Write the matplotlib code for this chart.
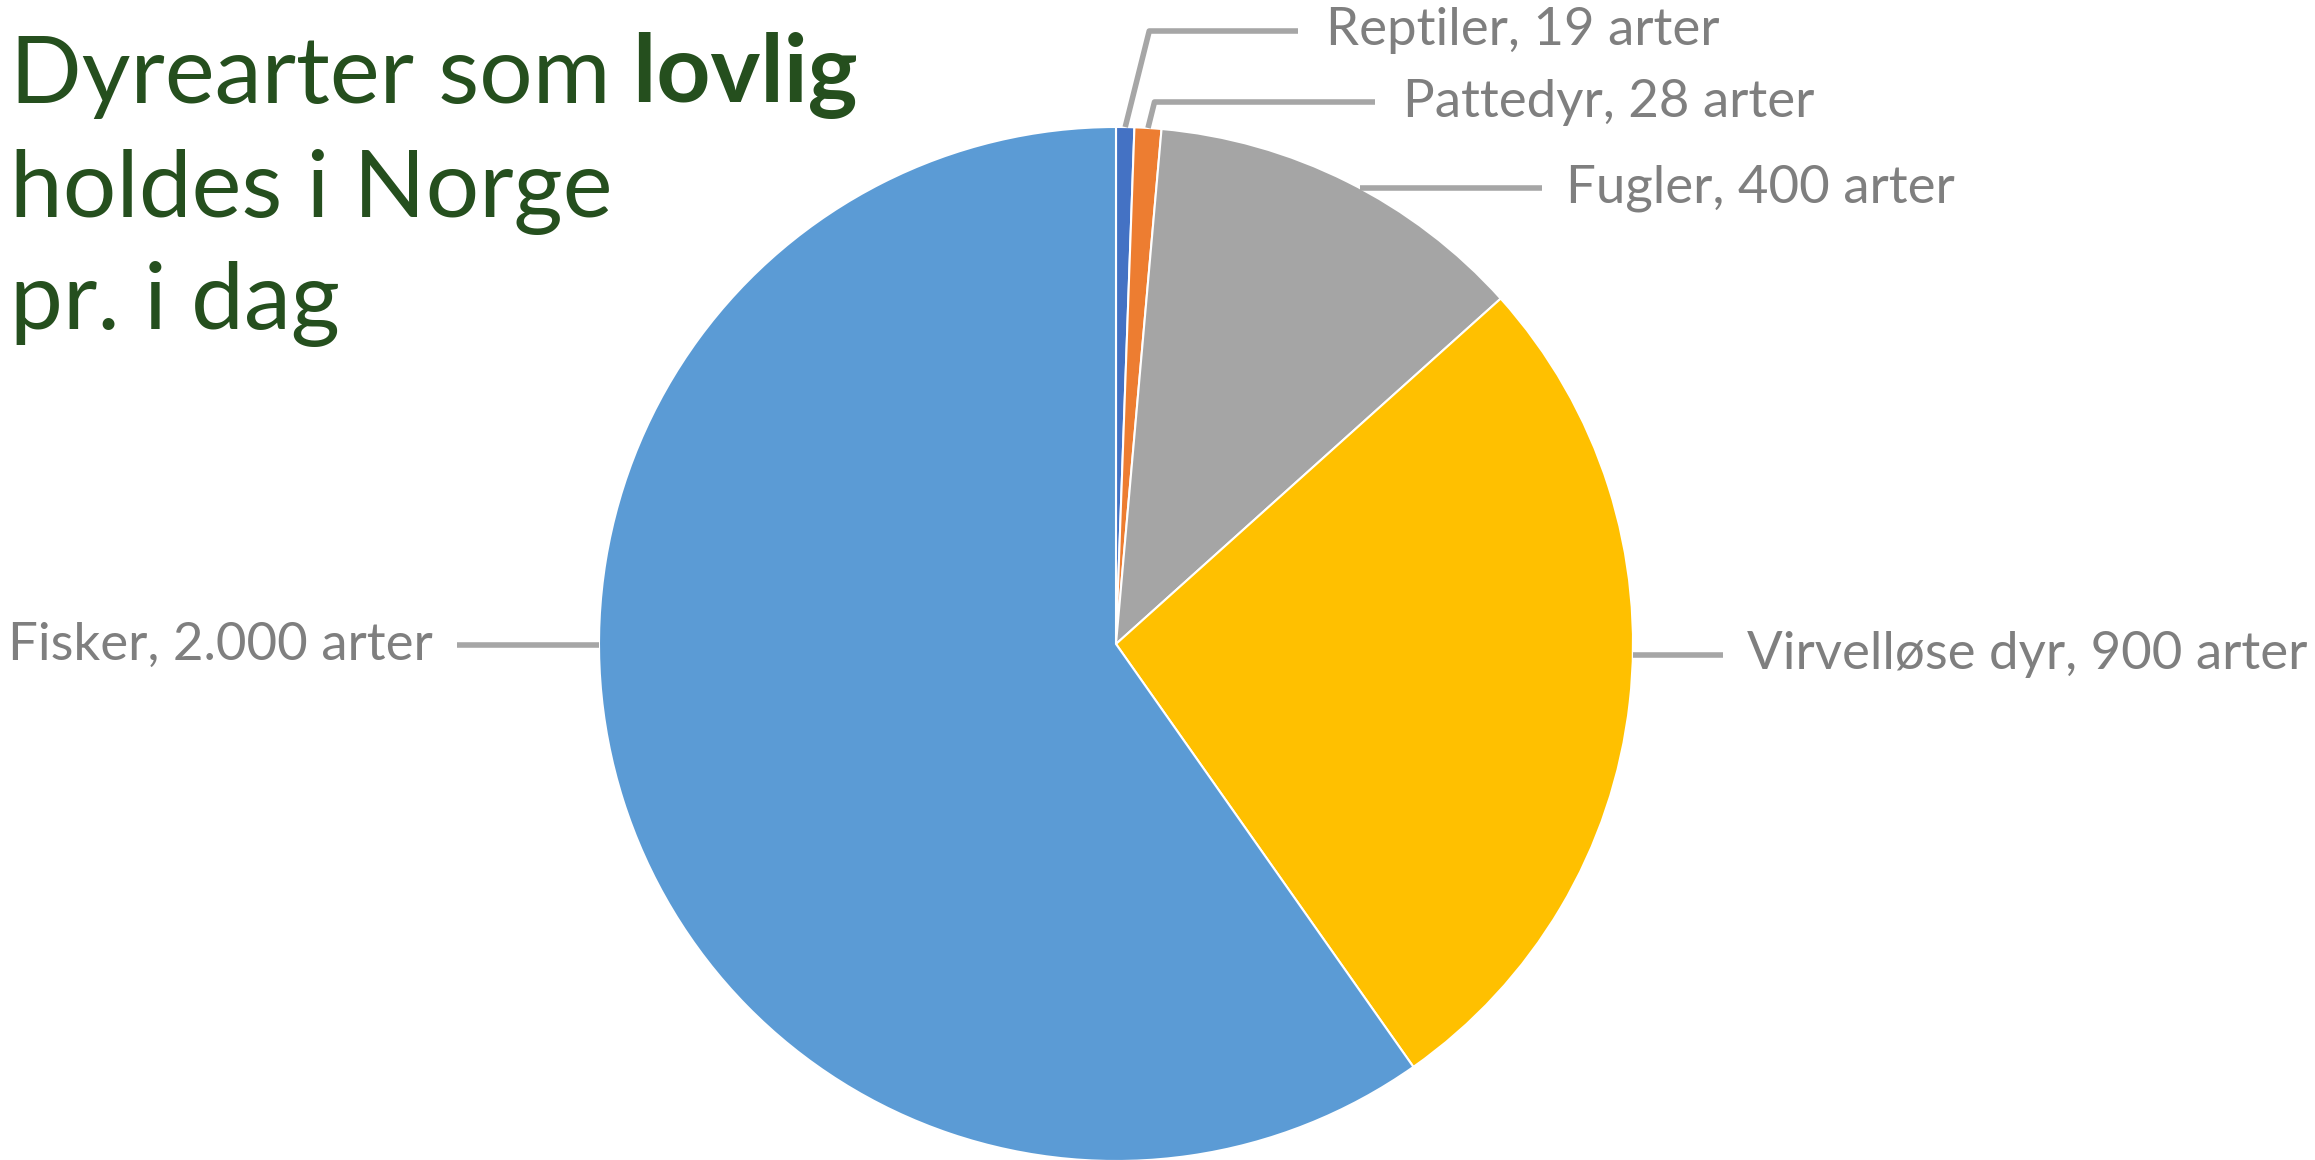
import math
import matplotlib
import matplotlib.pyplot as plt

matplotlib.use("Agg")

# data
kategorier = ["Reptiler", "Pattedyr", "Fugler", "Virvelløse dyr", "Fisker"]
antall = [19, 28, 400, 900, 2000]
etiketter = ["Reptiler, 19 arter", "Pattedyr, 28 arter", "Fugler, 400 arter",
             "Virvelløse dyr, 900 arter", "Fisker, 2.000 arter"]
farger = ["#4472C4", "#ED7D31", "#A5A5A5", "#FFC000", "#5B9BD5"]

W, H = 2315, 1160
cx, cy, r = 1116, H - 644, 517

# label layout in pixels (y measured from top): text anchor x, y, side, elbow?
etikett_pos = [
    (1326, 31, "left", True),
    (1403, 102, "left", True),
    (1566, 188, "left", False),
    (1747, 655, "left", False),
    (433, 645, "right", False),
]

tittel_farge = "#254F1E"
tekst_farge = "#7F7F7F"
linje_farge = "#A6A6A6"
font = "Lato"

fig = plt.figure(figsize=(W / 100, H / 100), dpi=100)
ax = fig.add_axes([0, 0, 1, 1])

wedges, _ = ax.pie(antall, colors=farger, startangle=90, counterclock=False,
                   center=(cx, cy), radius=r, frame=True,
                   wedgeprops=dict(edgecolor="white", linewidth=1.5))
ax.set_xlim(0, W)
ax.set_ylim(0, H)
ax.set_aspect("equal")
ax.axis("off")

for w, tekst, (tx, ty, side, elbow) in zip(wedges, etiketter, etikett_pos):
    y = H - ty
    if elbow:
        mid = math.radians((w.theta1 + w.theta2) / 2)
        x0 = cx + r * math.cos(mid)
        y0 = cy + r * math.sin(mid)
        xs = [x0, x0 + (y - y0) * 0.25, tx - 28]
        ys = [y0, y, y]
    else:
        dx = math.sqrt(max(r ** 2 - (y - cy) ** 2, 0))
        if side == "left":
            xs = [cx + dx, tx - 24]
        else:
            xs = [cx - dx, tx + 24]
        ys = [y, y]
    ax.plot(xs, ys, color=linje_farge, lw=4, solid_capstyle="butt")
    ax.text(tx, y, tekst, ha=side, va="center", fontsize=38, color=tekst_farge,
            family=font)

# title
t1 = ax.text(10, H - 103, "Dyrearter som", fontsize=68, color=tittel_farge,
             family=font, va="baseline", ha="left")
ax.annotate(" lovlig", xy=(1, 0), xycoords=t1, va="bottom", ha="left",
            fontsize=68, color=tittel_farge, family=font, fontweight="bold")
ax.text(10, H - 217, "holdes i Norge", fontsize=68, color=tittel_farge,
        family=font, va="baseline", ha="left")
ax.text(10, H - 329, "pr. i dag", fontsize=68, color=tittel_farge,
        family=font, va="baseline", ha="left")

fig.savefig("out.png", dpi=100)
